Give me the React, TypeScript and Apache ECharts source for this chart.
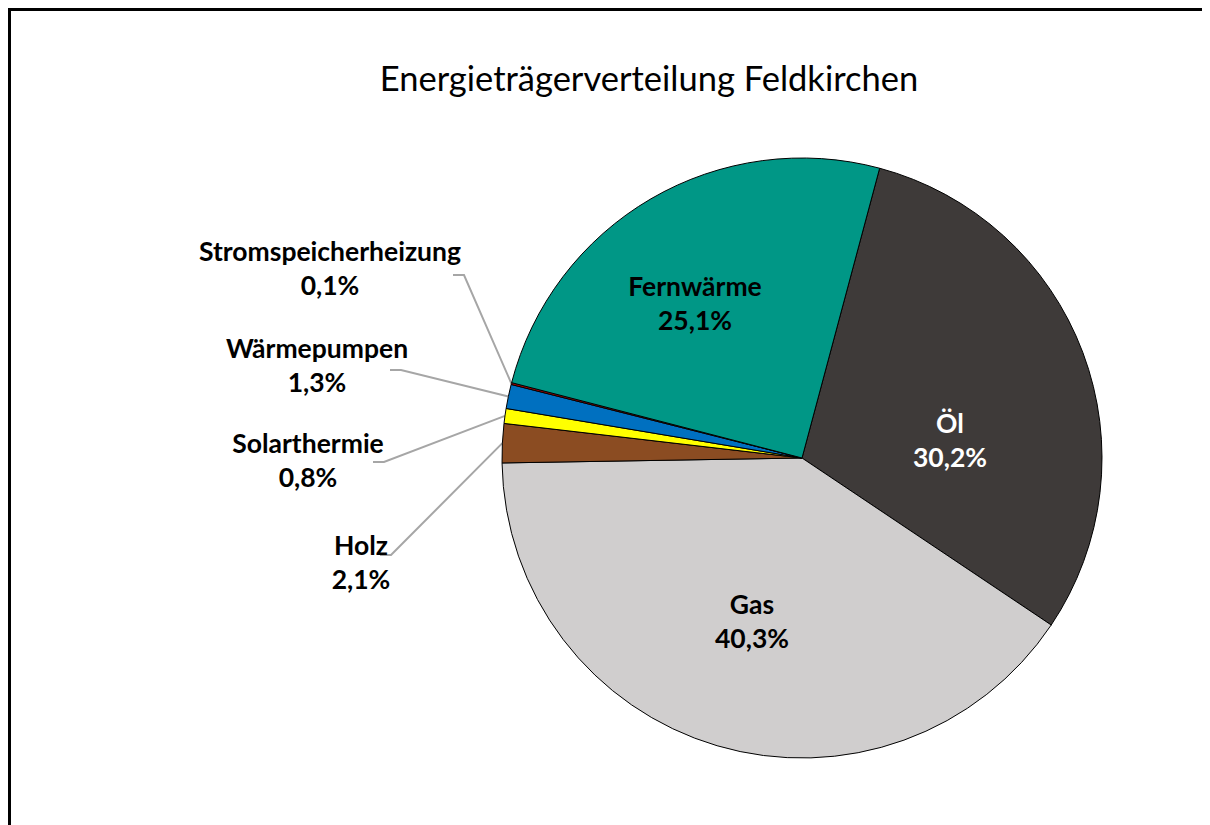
import React, { useEffect, useRef } from "react";
import * as echarts from "echarts";

const TITLE = "Energieträgerverteilung Feldkirchen";
const categories = ["Öl", "Gas", "Holz", "Solarthermie", "Wärmepumpen", "Stromspeicherheizung", "Fernwärme"];
const shares = [30.2, 40.3, 2.1, 0.8, 1.3, 0.1, 25.1];
const sliceColors = ["#3E3A39", "#D0CECE", "#8B4C22", "#FFFF00", "#0070C0", "#C00000", "#009786"];

// label placement (layout only, chart pixel coords)
const CENTER = [791, 447];
const RADIUS = 300;
const labelBoxes = [
  { x: 939, y: 429, inside: true, color: "#FFFFFF" },
  { x: 741, y: 610, inside: true, color: "#000000" },
  { x: 350, y: 551, inside: false, color: "#000000", end: [369, 544] },
  { x: 297, y: 449, inside: false, color: "#000000", end: [362, 451] },
  { x: 306, y: 354, inside: false, color: "#000000", end: [379, 359] },
  { x: 319, y: 257, inside: false, color: "#000000", end: [442, 264] },
  { x: 684, y: 292, inside: true, color: "#000000" },
];

const FONT = "Lato";

export default function App() {
  const ref = useRef<HTMLDivElement>(null);
  useEffect(() => {
    document.documentElement.style.overflow = "hidden";
    document.body.style.overflow = "hidden";
    if (!ref.current) return;
    const chart = echarts.init(ref.current, undefined, { renderer: "svg" });
    const total = shares.reduce((a, b) => a + b, 0);
    const startAngle = 75;
    chart.setOption({
      animation: false,
      backgroundColor: "#FFFFFF",
      title: {
        text: TITLE,
        left: 633,
        top: 44,
        textAlign: "center",
        textStyle: { fontFamily: FONT, fontWeight: "normal", fontSize: 34.5, color: "#000000" },
      },
      series: [
        {
          type: "pie",
          center: CENTER,
          radius: RADIUS,
          startAngle,
          clockwise: true,
          avoidLabelOverlap: false,
          itemStyle: { borderColor: "#000000", borderWidth: 1 },
          labelLine: { show: true, length: 10, length2: 10, lineStyle: { color: "#A6A6A6", width: 2 } },
          data: categories.map((name, i) => ({
            name,
            value: shares[i],
            itemStyle: { color: sliceColors[i] },
            label: {
              show: true,
              position: labelBoxes[i].inside ? "inside" : "outside",
              color: labelBoxes[i].color,
            },
            labelLine: { show: !labelBoxes[i].inside },
          })),
          label: {
            fontFamily: FONT,
            fontWeight: "bold",
            fontSize: 26.5,
            lineHeight: 34,
            align: "center",
            formatter: (p: any) => `${p.name}\n${String(p.value).replace(".", ",")}%`,
          },
          labelLayout: (params: any) => {
            const b = labelBoxes[params.dataIndex];
            const res: any = { x: b.x, y: b.y, align: "center", verticalAlign: "middle" };
            if (!b.inside && b.end) {
              let anchor = params.labelLinePoints && params.labelLinePoints[0];
              if (!anchor) {
                let acc = 0;
                for (let k = 0; k < params.dataIndex; k++) acc += shares[k];
                const mid = ((acc + shares[params.dataIndex] / 2) / total) * 360;
                const ang = ((startAngle - mid) * Math.PI) / 180;
                anchor = [CENTER[0] + RADIUS * Math.cos(ang), CENTER[1] - RADIUS * Math.sin(ang)];
              }
              res.labelLinePoints = [anchor, [b.end[0] + 11, b.end[1]], b.end];
            }
            return res;
          },
        },
      ],
    });
    return () => chart.dispose();
  }, []);
  return (
    <div
      style={{
        width: 1300,
        height: 900,
        borderLeft: "3px solid #000",
        borderTop: "3px solid #000",
        boxSizing: "border-box",
        background: "#fff",
        overflow: "hidden",
      }}
    >
      <div ref={ref} style={{ width: 1280, height: 880 }} />
    </div>
  );
}
